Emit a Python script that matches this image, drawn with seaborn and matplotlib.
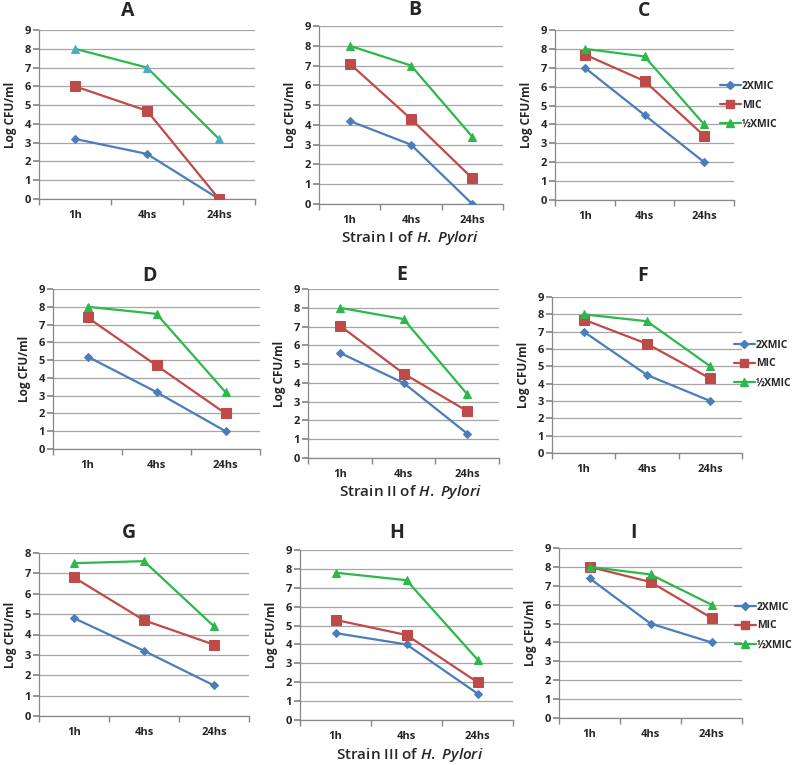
import numpy as np
import pandas as pd
import matplotlib
matplotlib.use("Agg")
import matplotlib.pyplot as plt
import seaborn as sns
from matplotlib.lines import Line2D

sns.set_theme(style="white")
plt.rcParams['font.family'] = ['Open Sans', 'DejaVu Sans']
plt.rcParams['mathtext.fontset'] = 'custom'
plt.rcParams['mathtext.it'] = 'Open Sans:italic:semibold'
plt.rcParams['mathtext.rm'] = 'Open Sans:semibold'

times = ["1h", "4hs", "24hs"]
series = ["2XMIC", "MIC", "½XMIC"]
panels = ["A", "B", "C", "D", "E", "F", "G", "H", "I"]

A_2x = [3.2, 2.4, 0.0]; A_mic = [6.0, 4.7, 0.0]; A_half = [8.0, 7.0, 3.2]
B_2x = [4.2, 3.0, 0.0]; B_mic = [7.1, 4.3, 1.3]; B_half = [8.0, 7.0, 3.4]
C_2x = [7.0, 4.5, 2.0]; C_mic = [7.7, 6.3, 3.4]; C_half = [8.0, 7.6, 4.0]
D_2x = [5.2, 3.2, 1.0]; D_mic = [7.4, 4.7, 2.0]; D_half = [8.0, 7.6, 3.2]
E_2x = [5.6, 4.0, 1.3]; E_mic = [7.05, 4.5, 2.5]; E_half = [8.0, 7.4, 3.4]
F_2x = [7.0, 4.5, 3.0]; F_mic = [7.7, 6.3, 4.3]; F_half = [8.0, 7.6, 5.0]
G_2x = [4.8, 3.2, 1.5]; G_mic = [6.8, 4.7, 3.5]; G_half = [7.5, 7.6, 4.4]
H_2x = [4.6, 4.0, 1.4]; H_mic = [5.3, 4.5, 2.0]; H_half = [7.8, 7.4, 3.2]
I_2x = [7.4, 5.0, 4.0]; I_mic = [8.0, 7.2, 5.3]; I_half = [8.0, 7.6, 6.0]

data = {
    "A": (A_2x, A_mic, A_half), "B": (B_2x, B_mic, B_half), "C": (C_2x, C_mic, C_half),
    "D": (D_2x, D_mic, D_half), "E": (E_2x, E_mic, E_half), "F": (F_2x, F_mic, F_half),
    "G": (G_2x, G_mic, G_half), "H": (H_2x, H_mic, H_half), "I": (I_2x, I_mic, I_half),
}
ymax = {"G": 8}
strain_titles = ["Strain I of ", "Strain II of ", "Strain III of "]

# pixel boxes: left, right, top, bottom
boxes = {
    "A": (39, 255, 30, 199), "B": (319, 503, 26, 204), "C": (555, 734, 30, 200),
    "D": (53, 260, 289, 449), "E": (308, 499, 289, 458), "F": (552, 742, 297, 453),
    "G": (39, 249, 553, 716), "H": (300, 513, 550, 720), "I": (559, 742, 548, 718),
}
title_pos = {
    "A": (128, 11), "B": (415, 10), "C": (644, 11),
    "D": (149, 276), "E": (402, 275), "F": (643, 276),
    "G": (129, 533), "H": (397, 533), "I": (634, 533),
}

W, H = 796, 765
fig = plt.figure(figsize=(W / 100, H / 100), dpi=100)

colors = {"2XMIC": "#4A7EBB", "MIC": "#BE4B48", "½XMIC": "#2DB84B"}
markers = {"2XMIC": "D", "MIC": "s", "½XMIC": "^"}
msizes = {"2XMIC": 4, "MIC": 6.5, "½XMIC": 6}

for p in panels:
    l, r, t, b = boxes[p]
    ax = fig.add_axes([l / W, 1 - b / H, (r - l) / W, (b - t) / H])
    rows = []
    for s, vals in zip(series, data[p]):
        for i, (tm, v) in enumerate(zip(times, vals)):
            rows.append({"pos": i, "time": tm, "series": s, "val": v})
    df = pd.DataFrame(rows)
    for s in series:
        sub = df[df.series == s]
        mfc = colors[s]
        if p == "A" and s == "½XMIC":
            mfc = "#4BACC6"
        sns.lineplot(data=sub, x="pos", y="val", ax=ax, color=colors[s], marker=markers[s],
                     markersize=msizes[s], markerfacecolor=mfc, markeredgecolor=mfc,
                     linewidth=1.6, legend=False, zorder=3)
    ym = ymax.get(p, 9)
    ax.set_ylim(0, ym)
    ax.set_xlim(-0.5, 2.5)
    ax.set_yticks(range(0, ym + 1))
    ax.set_xticks(range(3))
    ax.set_xticklabels(times)
    ax.set_xticks([-0.5, 0.5, 1.5, 2.5], minor=True)
    ax.tick_params(axis="x", which="major", length=0, pad=8, labelsize=8)
    ax.tick_params(axis="x", which="minor", length=4, direction="out", color="#888888", bottom=True)
    ax.tick_params(axis="y", length=4, direction="out", color="#888888", left=True, labelsize=8, pad=2)
    for lab in ax.get_xticklabels() + ax.get_yticklabels():
        lab.set_fontweight("bold")
    ax.yaxis.grid(True, color="#A6A6A6", linewidth=0.9)
    ax.xaxis.grid(False)
    for sp in ["top", "right"]:
        ax.spines[sp].set_visible(False)
    for sp in ["left", "bottom"]:
        ax.spines[sp].set_color("#888888")
        ax.spines[sp].set_linewidth(0.9)
    ax.set_xlabel("")
    ax.set_ylabel("Log CFU/ml", fontsize=8.5, fontweight="bold", labelpad=5)
    ax.set_axisbelow(True)
    tx, ty = title_pos[p]
    fig.text(tx / W, 1 - ty / H, p, ha="center", va="center", fontsize=14, fontweight="bold")

# strain titles
strain_y = [238, 492, 755]
for k, st in enumerate(strain_titles):
    fig.text(410 / W, 1 - strain_y[k] / H, st + r"$\mathit{H.}$ $\mathit{Pylori}$", ha="center", va="center",
             fontsize=11, fontweight="semibold")

# legends
handles = [Line2D([0], [0], color=colors[s], marker=markers[s], markersize=msizes[s] * 0.9,
                  markerfacecolor=colors[s], markeredgecolor=colors[s], linewidth=1.6) for s in series]
for (xl, yc) in [(720, 105), (734, 364), (735, 626)]:
    leg = fig.legend(handles, series, loc="center left", bbox_to_anchor=(xl / W, 1 - yc / H),
                     frameon=False, fontsize=7.5, handlelength=2.0, handletextpad=0.1,
                     labelspacing=0.75, borderaxespad=0, borderpad=0)
    for txt in leg.get_texts():
        txt.set_fontweight("bold")

fig.savefig("out.png", dpi=100, facecolor="white")
